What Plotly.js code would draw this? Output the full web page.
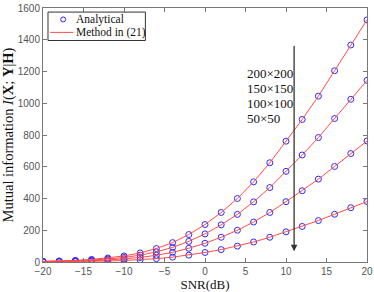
<!DOCTYPE html>
<html><head><meta charset="utf-8">
<script src="https://cdn.plot.ly/plotly-3.0.1.min.js"></script>
<style>body{margin:0;padding:0;background:#fff}#chart{width:374px;height:292px}</style>
</head><body><div id="chart"></div>
<script>
const snr = [-20,-18,-16,-14,-12,-10,-8,-6,-4,-2,0,2,4,6,8,10,12,14,16,18,20];
const mi200 = [4, 6.3, 10, 16, 25, 38, 57, 85, 122, 173, 236, 312, 400, 505, 625, 761, 898, 1045, 1205, 1367, 1525];
const mi150 = [3, 4.7, 7.5, 12, 19, 28.5, 43, 64, 92, 130, 177, 234, 300, 379, 469, 571, 674, 784, 904, 1025, 1144];
const mi100 = [2, 3.2, 5, 8, 12.5, 19, 28.5, 42.5, 61, 86.5, 118, 156, 200, 252, 312, 380, 449, 522, 602, 683, 762];
const mi50  = [1, 1.6, 2.5, 4, 6.3, 9.5, 14, 21, 30.5, 43, 60, 78, 100, 126, 156, 190, 224, 261, 301, 342, 381];
const sizeLabels = ['200×200','150×150','100×100','50×50'];
const legendNames = ['Analytical','Method in (21)'];
const seriesList = [mi200, mi150, mi100, mi50];
const xTicks = [-20,-15,-10,-5,0,5,10,15,20];
const yTicks = [0,200,400,600,800,1000,1200,1400,1600];

const blue = '#2a2aff', red = '#ff4a4a';
const traces = [];
seriesList.forEach((ys, i) => {
  traces.push({x: snr, y: ys, mode: 'markers', type: 'scatter', name: legendNames[0], showlegend: false,
    marker: {symbol: 'circle-open', size: 6, color: blue, line: {width: 1, color: blue}}});
});
seriesList.forEach((ys, i) => {
  traces.push({x: snr, y: ys, mode: 'lines', type: 'scatter', name: legendNames[1], showlegend: false,
    line: {color: red, width: 1}});
});

const serif = '"Liberation Serif", "Times New Roman", serif';
const annotations = sizeLabels.map((t, i) => ({
  x: 4.9, y: 1190 - i * 95, xref: 'x', yref: 'y', text: t, showarrow: false,
  xanchor: 'left', yanchor: 'middle', font: {family: serif, size: 13, color: '#111'}
}));
annotations.push({x: 11, y: 67, ax: 11, ay: 1370, xref: 'x', yref: 'y', axref: 'x', ayref: 'y',
  showarrow: true, arrowhead: 2, arrowsize: 1, arrowwidth: 1.3, arrowcolor: '#333', text: ''});
// custom legend (paper coords relative to plot area)
const legY = [0.955, 0.904];
legendNames.forEach((t, i) => annotations.push({x: 0.099, y: legY[i], xref: 'paper', yref: 'paper',
  text: t, showarrow: false, xanchor: 'left', yanchor: 'middle', borderpad: 0,
  font: {family: serif, size: 11.5, color: '#111'}}));

const shapes = [
  {type: 'rect', xref: 'paper', yref: 'paper', x0: 0.0154, x1: 0.316, y0: 0.872, y1: 0.984,
    line: {color: '#333', width: 1}, fillcolor: '#fff', layer: 'above'},
  {type: 'circle', xref: 'paper', yref: 'paper', x0: 0.0545, x1: 0.0700, y0: legY[0] - 0.0098, y1: legY[0] + 0.0098,
    line: {color: blue, width: 1}, layer: 'above'},
  {type: 'line', xref: 'paper', yref: 'paper', x0: 0.022, x1: 0.094, y0: legY[1], y1: legY[1],
    line: {color: red, width: 1}, layer: 'above'}
];

const axisCommon = {showgrid: false, zeroline: false, showline: true, mirror: 'ticks', linecolor: '#777',
  linewidth: 1, ticks: 'inside', ticklen: 4, tickcolor: '#777',
  tickfont: {family: 'Liberation Sans, Arial, sans-serif', size: 10, color: '#555'}};

const layout = {
  width: 374, height: 292,
  margin: {l: 43, r: 7, t: 8, b: 30},
  paper_bgcolor: '#fff', plot_bgcolor: '#fff',
  showlegend: false,
  xaxis: Object.assign({}, axisCommon, {range: [-20, 20], tickvals: xTicks,
    title: {text: 'SNR(dB)', font: {family: serif, size: 13, color: '#111'}, standoff: 3}}),
  yaxis: Object.assign({}, axisCommon, {range: [0, 1600], tickvals: yTicks,
    title: {text: 'Mutual information <i>I</i>(<b>X</b>; <b>Y</b>|<b>H</b>)', font: {family: serif, size: 14.5, color: '#111'}, standoff: 5}}),
  annotations: annotations,
  shapes: shapes
};
Plotly.newPlot('chart', traces, layout, {displayModeBar: false, staticPlot: true});
</script></body></html>
